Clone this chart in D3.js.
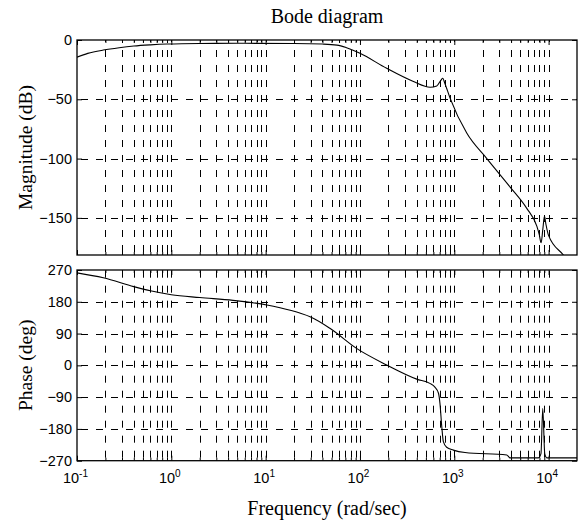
<!DOCTYPE html>
<html>
<head>
<meta charset="utf-8">
<script src="https://cdn.jsdelivr.net/npm/d3@7"></script>
<style>
  body { margin: 0; background: #fff; }
  svg { display: block; }
</style>
</head>
<body>
<div id="chart"></div>
<script>
// values
const freqMajor = [0.1, 1, 10, 100, 1000, 10000];
const freqExp = ["-1", "0", "1", "2", "3", "4"];
const magTicks = [0, -50, -100, -150];
const phaseTicks = [270, 180, 90, 0, -90, -180, -270];

const magFreq = [0.1, 0.13, 0.19, 0.28, 0.4, 0.6, 0.9, 2, 5, 20, 40, 57, 72, 100, 192, 369, 554, 652, 720, 755, 790, 902, 1355, 2213, 3909, 5870, 7500, 7950, 8330, 8700, 9040, 9350, 9960, 14350, 20000];
const magDb = [-14.5, -11.3, -8.5, -6.5, -5.1, -4.1, -3.4, -2.9, -2.8, -2.9, -3.4, -4.3, -6.5, -11.2, -23.9, -35, -39.8, -38.7, -34, -32.3, -36, -49, -78.5, -100, -124, -142, -157, -164, -171, -159, -148.5, -155, -164.5, -181.3, -196];

const phaseFreq = [0.1, 0.19, 0.4, 0.6, 1, 2, 4.5, 10.3, 14.2, 23, 30, 48, 92, 192, 400, 550, 620, 680, 705, 737, 766, 830, 977, 1300, 3600, 3900, 7800, 8300, 8670, 9100, 9570, 20000];
const phaseDeg = [262, 248, 223, 211, 200, 192, 184, 171, 163, 148, 137, 105, 48, 1, -39, -51, -61, -79, -108, -174, -216, -232, -240, -247, -254, -262, -262, -250, -122, -250, -262, -262];

const W = 578, H = 524;
const left = 77, right = 577;

const svg = d3.select("#chart").append("svg")
    .attr("width", W)
    .attr("height", H)
    .style("font-family", "'Liberation Sans', Arial, sans-serif");

const x = d3.scaleLog().domain([0.1, 20000]).range([left, right]);

// minor frequencies 2..9 per decade
const freqMinor = [];
freqMajor.forEach(f => {
    for (let k = 2; k <= 9; k++) {
        if (f * k < 20000) freqMinor.push(f * k);
    }
});
const freqGrid = freqMajor.slice(1).concat(freqMinor);

const panels = [
    { top: 40, bottom: 255, domain: [-181.3, 0], ticks: magTicks,
      label: "Magnitude (dB)", fq: magFreq, val: magDb, labels: false },
    { top: 270, bottom: 460.7, domain: [-270, 270], ticks: phaseTicks,
      label: "Phase (deg)", fq: phaseFreq, val: phaseDeg, labels: true }
];

const serif = "'Liberation Serif', 'Times New Roman', serif";

panels.forEach((p, i) => {
    const y = d3.scaleLinear().domain(p.domain).range([p.bottom, p.top]);
    const g = svg.append("g");

    g.append("clipPath").attr("id", "clip" + i)
        .append("rect")
        .attr("x", left).attr("y", p.top)
        .attr("width", right - left).attr("height", p.bottom - p.top);

    // dashed grid
    g.append("g").selectAll("line")
        .data(freqGrid)
        .enter().append("line")
        .attr("x1", d => Math.round(x(d)) + 0.5)
        .attr("x2", d => Math.round(x(d)) + 0.5)
        .attr("y1", p.bottom)
        .attr("y2", p.top)
        .attr("stroke", "#000")
        .attr("stroke-width", 1)
        .attr("stroke-dasharray", "7,8")
        .attr("stroke-dashoffset", -3);

    g.append("g").selectAll("line")
        .data(p.ticks.filter(t => y(t) > p.top + 1 && y(t) < p.bottom - 1))
        .enter().append("line")
        .attr("x1", left)
        .attr("x2", right)
        .attr("y1", d => Math.round(y(d)) + 0.5)
        .attr("y2", d => Math.round(y(d)) + 0.5)
        .attr("stroke", "#000")
        .attr("stroke-width", 1)
        .attr("stroke-dasharray", "7,8")
        .attr("stroke-dashoffset", -4);

    // curve
    const line = d3.line()
        .x((d, j) => x(p.fq[j]))
        .y(d => y(d))
        .curve(d3.curveMonotoneX);

    g.append("path")
        .datum(p.val)
        .attr("clip-path", `url(#clip${i})`)
        .attr("fill", "none")
        .attr("stroke", "#000")
        .attr("stroke-width", 1.1)
        .attr("d", line);

    // axes with inward ticks
    const xb = g.append("g")
        .attr("transform", `translate(0,${p.bottom})`)
        .call(d3.axisBottom(x).tickValues(freqMajor).tickSize(-5).tickPadding(12).tickFormat(() => ""));
    g.append("g")
        .attr("transform", `translate(0,${p.bottom})`)
        .call(d3.axisBottom(x).tickValues(freqMinor).tickSize(-3).tickFormat(() => ""));
    g.append("g")
        .attr("transform", `translate(0,${p.top})`)
        .call(d3.axisTop(x).tickValues(freqMajor).tickSize(-5).tickFormat(() => ""));
    g.append("g")
        .attr("transform", `translate(0,${p.top})`)
        .call(d3.axisTop(x).tickValues(freqMinor).tickSize(-3).tickFormat(() => ""));

    g.append("g")
        .attr("transform", `translate(${left},0)`)
        .call(d3.axisLeft(y).tickValues(p.ticks).tickSize(-5).tickPadding(5))
        .selectAll("text")
        .style("font-size", "14.5px")
        .attr("fill", "#000");
    g.append("g")
        .attr("transform", `translate(${right},0)`)
        .call(d3.axisRight(y).tickValues(p.ticks).tickSize(-5).tickFormat(() => ""));

    g.selectAll(".domain").remove();
    g.selectAll(".tick line").attr("stroke", "#000");

    // frame
    g.append("rect")
        .attr("x", left).attr("y", p.top)
        .attr("width", right - left).attr("height", p.bottom - p.top)
        .attr("fill", "none")
        .attr("stroke", "#000")
        .attr("stroke-width", 1.3);

    if (p.labels) {
        xb.selectAll(".tick text")
            .each(function(d, j) {
                const t = d3.select(this);
                t.attr("fill", "#000").style("font-size", "14.5px").attr("dx", "-2px");
                t.append("tspan").text("10");
                t.append("tspan")
                    .attr("dy", "-0.55em")
                    .style("font-size", "10px")
                    .text(freqExp[j]);
            });
    }

    svg.append("text")
        .attr("transform", `translate(32,${(p.top + p.bottom) / 2}) rotate(-90)`)
        .attr("text-anchor", "middle")
        .style("font-family", serif)
        .style("font-size", "19.5px")
        .text(p.label);
});

svg.append("text")
    .attr("x", (left + right) / 2)
    .attr("y", 23)
    .attr("text-anchor", "middle")
    .style("font-family", serif)
    .style("font-size", "20px")
    .text("Bode diagram");

svg.append("text")
    .attr("x", (left + right) / 2)
    .attr("y", 515)
    .attr("text-anchor", "middle")
    .style("font-family", serif)
    .style("font-size", "20px")
    .text("Frequency (rad/sec)");
</script>
</body>
</html>
